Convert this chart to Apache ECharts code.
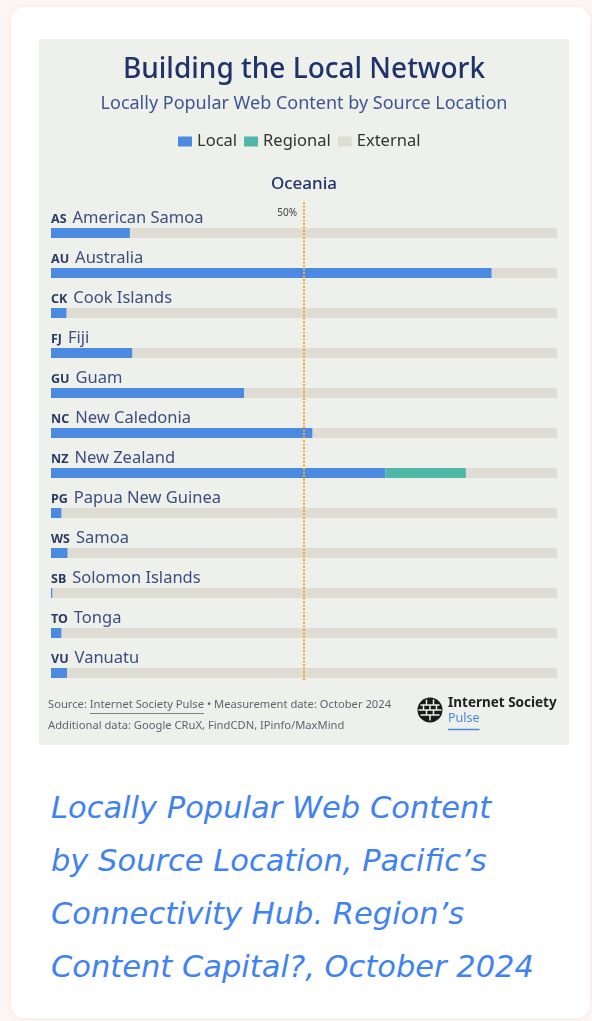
<!DOCTYPE html>
<html>
<head>
<meta charset="utf-8">
<script src="https://cdn.jsdelivr.net/npm/echarts@6/dist/echarts.min.js"></script>
<style>
  html, body { margin: 0; padding: 0; width: 592px; height: 1021px; background: #fcf7f6; overflow: hidden; }
  .card { position: absolute; left: 11px; top: 7px; width: 579px; height: 1011px; background: #ffffff;
          border-radius: 14px; box-shadow: 0 0 8px rgba(220, 180, 170, 0.22); }
  #chart { position: absolute; left: 39px; top: 39px; width: 530px; height: 706px; background: #eef0eb; }
  .caption { position: absolute; left: 51px; top: 781px; font-family: "DejaVu Sans", "Open Sans", sans-serif;
             font-style: italic; font-weight: 400; font-size: 30.5px; line-height: 53px; color: #3f82f2;
             white-space: nowrap; letter-spacing: 0px; }
</style>
</head>
<body>
<div class="card"></div>
<div id="chart"></div>
<div class="caption">Locally Popular Web Content<br>by Source Location, Pacific’s<br>Connectivity Hub. Region’s<br>Content Capital?, October 2024</div>
<script>
// Share of locally popular web content served from each source location (%)
const codes = ['AS', 'AU', 'CK', 'FJ', 'GU', 'NC', 'NZ', 'PG', 'WS', 'SB', 'TO', 'VU'];
const countries = ['American Samoa', 'Australia', 'Cook Islands', 'Fiji', 'Guam', 'New Caledonia',
                   'New Zealand', 'Papua New Guinea', 'Samoa', 'Solomon Islands', 'Tonga', 'Vanuatu'];
const local =    [15.6, 87.1, 3.1, 16.1, 38.2, 51.7, 66.1, 2.1, 3.3, 0.3, 2.1, 3.2];
const regional = [0, 0, 0, 0, 0, 0, 15.9, 0, 0, 0, 0, 0];
const external = local.map((v, i) => +(100 - v - regional[i]).toFixed(1));
const threshold = 50;

const FONT = '"Noto Sans", "Open Sans", sans-serif';
const NAVY = '#1f3368';
const FOOT = '#5f6470';
const FOOT_SIZE = 11.2;

// measure footer text so the link underlines sit under the right words
const measure = document.createElement('canvas').getContext('2d');
measure.font = FOOT_SIZE + 'px ' + FONT;
const linkX = 9 + measure.measureText('Source: ').width;
const linkW = measure.measureText('Internet Society Pulse').width;
measure.font = '12.5px ' + FONT;
const pulseW = measure.measureText('Pulse').width;

const chart = echarts.init(document.getElementById('chart'), null, { renderer: 'canvas' });

chart.setOption({
  backgroundColor: '#eef0eb',
  animation: false,
  textStyle: { fontFamily: FONT },
  title: [
    { text: 'Building the Local Network', left: 'center', top: 12,
      textStyle: { fontFamily: FONT, fontSize: 28, fontWeight: 500, color: NAVY } },
    { text: 'Locally Popular Web Content by Source Location', left: 'center', top: 51,
      textStyle: { fontFamily: FONT, fontSize: 18, fontWeight: 'normal', color: '#3e5590' } },
    { text: 'Oceania', left: 'center', top: 132,
      textStyle: { fontFamily: FONT, fontSize: 17, fontWeight: 500, color: NAVY } }
  ],
  legend: {
    data: ['Local', 'Regional', 'External'],
    left: 134, top: 89,
    itemWidth: 14, itemHeight: 10, itemGap: 7,
    icon: 'rect',
    textStyle: { fontFamily: FONT, fontSize: 16.5, color: '#333333' }
  },
  grid: { left: 12, width: 506, top: 174, height: 480, containLabel: false },
  xAxis: { type: 'value', min: 0, max: 100, show: false },
  yAxis: {
    type: 'category', inverse: true, data: countries,
    axisLine: { show: false }, axisTick: { show: false }, splitLine: { show: false },
    axisLabel: {
      inside: true, margin: 0, align: 'left', verticalAlign: 'bottom',
      padding: [0, 0, 6, 0],
      formatter: (name, i) => '{c|' + codes[i] + '}{n|' + name + '}',
      rich: {
        c: { fontFamily: FONT, fontSize: 12.5, fontWeight: 'bold', color: '#2b3a62', lineHeight: 20,
             verticalAlign: 'bottom', padding: [0, 6, 1, 0] },
        n: { fontFamily: FONT, fontSize: 16.5, color: '#3d4e7e', lineHeight: 20, verticalAlign: 'bottom' }
      }
    }
  },
  series: [
    {
      name: 'Local', type: 'bar', stack: 'share', barWidth: 10,
      itemStyle: { color: '#4a8ae0' },
      data: local,
      markLine: {
        silent: true, symbol: 'none',
        lineStyle: { color: '#f5a62f', width: 2, type: [2, 1.5] },
        label: { show: false },
        data: [[{ xAxis: threshold, y: 163 }, { xAxis: threshold, y: 642 }]]
      },
      markPoint: {
        silent: true, symbol: 'circle', symbolSize: 0,
        data: [{ coord: [threshold, countries[0]] }],
        label: {
          show: true, position: 'left', distance: 7, offset: [0, -20],
          formatter: threshold + '%', fontFamily: FONT, fontSize: 10, color: '#444444'
        }
      }
    },
    {
      name: 'Regional', type: 'bar', stack: 'share', barWidth: 10,
      itemStyle: { color: '#4fb7a7' },
      data: regional
    },
    {
      name: 'External', type: 'bar', stack: 'share', barWidth: 10,
      itemStyle: { color: '#dfdcd3' },
      data: external
    }
  ],
  graphic: [
    { type: 'text', left: 9, top: 660,
      style: { text: 'Source: Internet Society Pulse • Measurement date: October 2024',
               fontFamily: FONT, fontSize: FOOT_SIZE, fill: FOOT } },
    { type: 'line', shape: { x1: linkX, y1: 674.5, x2: linkX + linkW, y2: 674.5 },
      style: { stroke: FOOT, lineWidth: 0.8 } },
    { type: 'text', left: 9, top: 681,
      style: { text: 'Additional data: Google CRuX, FindCDN, IPinfo/MaxMind', fontFamily: FONT, fontSize: FOOT_SIZE, fill: FOOT } },
    // globe mark
    { type: 'group', left: 377, top: 658, children: [
      { type: 'circle', shape: { cx: 12.5, cy: 12.5, r: 12.5 }, style: { fill: '#1a1a1a' } },
      { type: 'line', shape: { x1: 3, y1: 7.5, x2: 22, y2: 7.5 }, style: { stroke: '#eef0eb', lineWidth: 1.5 } },
      { type: 'line', shape: { x1: 1, y1: 12.5, x2: 24, y2: 12.5 }, style: { stroke: '#eef0eb', lineWidth: 1.5 } },
      { type: 'line', shape: { x1: 3, y1: 17.5, x2: 22, y2: 17.5 }, style: { stroke: '#eef0eb', lineWidth: 1.5 } },
      { type: 'line', shape: { x1: 9, y1: 2, x2: 9, y2: 7.5 }, style: { stroke: '#eef0eb', lineWidth: 1.5 } },
      { type: 'line', shape: { x1: 16, y1: 2, x2: 16, y2: 7.5 }, style: { stroke: '#eef0eb', lineWidth: 1.5 } },
      { type: 'line', shape: { x1: 6, y1: 7.5, x2: 6, y2: 12.5 }, style: { stroke: '#eef0eb', lineWidth: 1.5 } },
      { type: 'line', shape: { x1: 12.5, y1: 7.5, x2: 12.5, y2: 12.5 }, style: { stroke: '#eef0eb', lineWidth: 1.5 } },
      { type: 'line', shape: { x1: 19, y1: 7.5, x2: 19, y2: 12.5 }, style: { stroke: '#eef0eb', lineWidth: 1.5 } },
      { type: 'line', shape: { x1: 9, y1: 12.5, x2: 9, y2: 17.5 }, style: { stroke: '#eef0eb', lineWidth: 1.5 } },
      { type: 'line', shape: { x1: 16, y1: 12.5, x2: 16, y2: 17.5 }, style: { stroke: '#eef0eb', lineWidth: 1.5 } },
      { type: 'line', shape: { x1: 12.5, y1: 17.5, x2: 12.5, y2: 23 }, style: { stroke: '#eef0eb', lineWidth: 1.5 } }
    ] },
    { type: 'text', left: 409, top: 657,
      style: { text: 'Internet Society', fontFamily: FONT, fontSize: 13.5, fontWeight: 'bold', fill: '#222222' } },
    { type: 'text', left: 409, top: 673,
      style: { text: 'Pulse', fontFamily: FONT, fontSize: 12.5, fill: '#4a8ae0' } },
    { type: 'line', shape: { x1: 409, y1: 690.5, x2: 409 + pulseW, y2: 690.5 },
      style: { stroke: '#4a8ae0', lineWidth: 1.5 } }
  ]
});
</script>
</body>
</html>
